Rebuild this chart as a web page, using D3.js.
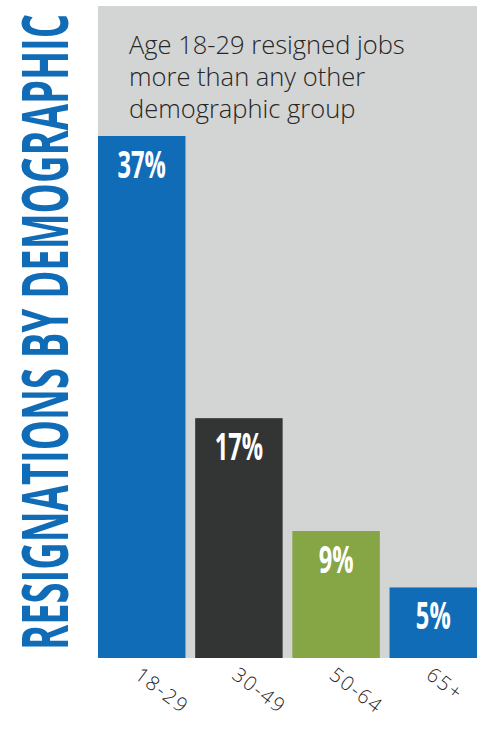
<!DOCTYPE html>
<html>
<head>
<meta charset="utf-8">
<script src="https://cdn.jsdelivr.net/npm/d3@7"></script>
<style>
  body { margin: 0; background: #fff; }
  svg { display: block; }
</style>
</head>
<body>
<svg id="chart"></svg>
<script>
// Data
const groups = ["18-29", "30-49", "50-64", "65+"];
const shares = [37, 17, 9, 5];
const barColors = ["#106cb6", "#333534", "#86a545", "#106cb6"];
const title = "RESIGNATIONS BY DEMOGRAPHIC";
const noteLines = ["Age 18-29 resigned jobs", "more than any other", "demographic group"];

// Size
const width = 482, height = 729;
const panel = { left: 98, right: 477, top: 6, bottom: 658 };

const svg = d3.select("#chart")
    .attr("width", width)
    .attr("height", height)
    .attr("viewBox", [0, 0, width, height]);

// Scales
const x = d3.scaleBand()
    .domain(groups)
    .range([panel.left, panel.right])
    .paddingInner(0.1)
    .paddingOuter(0);

const y = d3.scaleLinear()
    .domain([0, 37])
    .range([panel.bottom, 136]);

// Grey background panel
svg.append("rect")
    .attr("x", panel.left)
    .attr("y", panel.top)
    .attr("width", panel.right - panel.left)
    .attr("height", panel.bottom - panel.top)
    .attr("fill", "#d3d4d4");

// Vertical title: measure it, then stretch to the column height
const titleG = svg.append("g");
const titleText = titleG.append("text")
    .attr("text-anchor", "middle")
    .attr("font-family", "'Open Sans', 'Noto Sans', sans-serif")
    .attr("font-weight", "bold")
    .attr("font-size", 40)
    .attr("fill", "#106cb6")
    .text(title);
const titleLen = titleText.node().getComputedTextLength();
const sx = 636 / titleLen, sy = 46 / (0.72 * 40);
titleG.attr("transform", `translate(68,332) rotate(-90) scale(${sx},${sy})`);

// Note text
svg.append("g")
    .selectAll("text")
    .data(noteLines)
    .join("text")
    .attr("x", 129)
    .attr("y", (d, i) => 54 + i * 32)
    .attr("font-family", "'Open Sans', 'Noto Sans', sans-serif")
    .attr("font-weight", 300)
    .attr("font-size", 25.5)
    .attr("fill", "#262626")
    .text(d => d);

// Bars
const data = groups.map((g, i) => ({ group: g, value: shares[i], color: barColors[i] }));

svg.append("g")
    .selectAll("rect")
    .data(data)
    .join("rect")
    .attr("x", d => x(d.group))
    .attr("y", d => y(d.value))
    .attr("width", x.bandwidth())
    .attr("height", d => y(0) - y(d.value))
    .attr("fill", d => d.color);

// Value labels
svg.append("g")
    .selectAll("text")
    .data(data)
    .join("text")
    .attr("transform", d => `translate(${x(d.group) + x.bandwidth() / 2},${y(d.value) + 42}) scale(0.64,1)`)
    .attr("text-anchor", "middle")
    .attr("font-family", "'Open Sans', 'Noto Sans', sans-serif")
    .attr("font-weight", "bold")
    .attr("font-size", 37)
    .attr("fill", "#fff")
    .text(d => d.value + "%");

// X axis labels, rotated
const xAxis = g => g
    .attr("transform", `translate(0,${panel.bottom})`)
    .call(d3.axisBottom(x).tickSize(0).tickPadding(0))
    .call(g => g.select(".domain").remove())
    .call(g => g.selectAll("text")
        .attr("transform", "translate(-4,14) rotate(37)")
        .attr("text-anchor", "start")
        .attr("dy", "0.35em")
        .attr("font-family", "'Open Sans', 'Noto Sans', sans-serif")
        .attr("font-weight", 300)
        .attr("font-size", 20)
        .attr("letter-spacing", 1.8)
        .attr("fill", "#262626"));

svg.append("g").call(xAxis);
</script>
</body>
</html>
